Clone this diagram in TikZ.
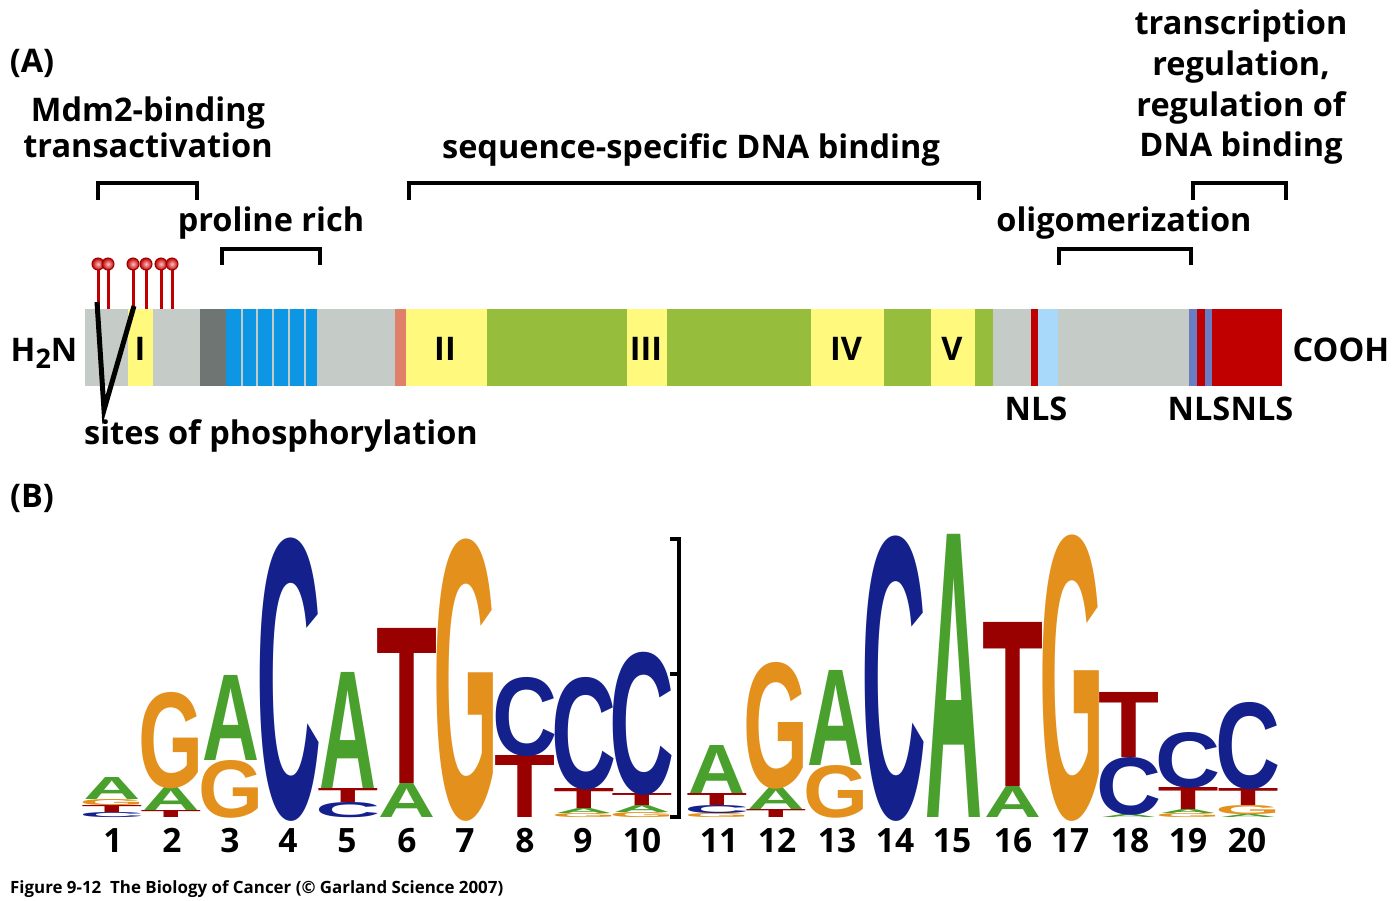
\documentclass[tikz,border=0pt]{standalone}
\usepackage{fontspec}
\usepackage{graphicx}
\setmainfont{Open Sans}
\newfontfamily\logofont{Liberation Sans}
\definecolor{cGray}{HTML}{C5CCC7}
\definecolor{cYel}{HTML}{FFF97D}
\definecolor{cGrn}{HTML}{96BE3C}
\definecolor{cDark}{HTML}{6E7572}
\definecolor{cBlue}{HTML}{0D96E4}
\definecolor{cSalm}{HTML}{E0806A}
\definecolor{cRed}{HTML}{C00000}
\definecolor{cLBlue}{HTML}{A9D9FA}
\definecolor{cPurp}{HTML}{6A7DC2}
\definecolor{lA}{HTML}{4AA02C}
\definecolor{lC}{HTML}{14218C}
\definecolor{lG}{HTML}{E3901D}
\definecolor{lT}{HTML}{990000}
\def\lwA{57pt}\def\lwC{65pt}\def\lwG{65pt}\def\lwT{61pt}
% #1 x centre, #2 bottom y, #3 height, #4 letter
\newcommand\logoL[4]{\node[inner sep=0pt,anchor=base,text=l#4] (L#1-#2) at (#1,#2)
  {\makebox[56pt]{\raisebox{0pt}[#3pt][0pt]{\resizebox{\csname lw#4\endcsname}{#3pt}{\logofont\bfseries #4}}}};}
\begin{document}
\begin{tikzpicture}[x=1pt,y=-1pt,
  lbl/.style={inner sep=0pt,anchor=base,font=\fontsize{32.5}{32.5}\selectfont\bfseries},
  num/.style={inner sep=0pt,anchor=base,font=\fontsize{33.5}{33.5}\selectfont\bfseries},
  brk/.style={line width=4pt},
  stem/.style={cRed,line width=3pt}]
\useasboundingbox (0,0) rectangle (1400,901);
\fill[white] (0,0) rectangle (1400,901);

% ---------- panel A texts
\node[lbl] (labA) at (32,73) {(A)};
\node[lbl] (mdm1) at (148,122) {Mdm2-binding};
\node[lbl] (mdm2) at (148,158) {transactivation};
\node[lbl] (pro) at (271,232) {proline rich};
\node[lbl] (seq) at (691,159) {sequence-specific DNA binding};
\node[lbl] (olig) at (1124,232) {oligomerization};
\node[lbl] (tr1) at (1241,35) {transcription};
\node[lbl] (tr2) at (1241,76) {regulation,};
\node[lbl] (tr3) at (1241,117) {regulation of};
\node[lbl] (tr4) at (1241,157) {DNA binding};

% brackets
\draw[brk] (98,200) -- (98,183) -- (197,183) -- (197,200);
\draw[brk] (222,265) -- (222,249) -- (320,249) -- (320,265);
\draw[brk] (409,200) -- (409,183) -- (979,183) -- (979,200);
\draw[brk] (1059,265) -- (1059,249) -- (1191,249) -- (1191,265);
\draw[brk] (1193,200) -- (1193,183) -- (1286,183) -- (1286,200);

% protein bar
\fill[cGray] (85,309) rectangle (1282,386);
\fill[cYel] (128,309) rectangle (153,386);
\fill[cDark] (200,309) rectangle (226,386);
\fill[cBlue] (226,309) rectangle (317,386);
\foreach \g in {241.7,257.2,273,288.7,304.6}
  \fill[cGray] (\g-1,309) rectangle (\g+1,386);
\fill[cSalm] (395,309) rectangle (406,386);
\fill[cYel] (406,309) rectangle (487,386);
\fill[cGrn] (487,309) rectangle (993,386);
\fill[cYel] (627,309) rectangle (667,386);
\fill[cYel] (811,309) rectangle (884,386);
\fill[cYel] (931,309) rectangle (975,386);
\fill[cRed] (1031,309) rectangle (1038,386);
\fill[cLBlue] (1038,309) rectangle (1058,386);
\fill[cPurp] (1189,309) rectangle (1197,386);
\fill[cRed] (1197,309) rectangle (1205,386);
\fill[cPurp] (1205,309) rectangle (1212,386);
\fill[cRed] (1212,309) rectangle (1282,386);

% domain numerals
\node[lbl] (d1) at (140,360) {I};
\node[lbl] (d2) at (445,360) {II};
\node[lbl] (d3) at (646,360) {III};
\node[lbl] (d4) at (846,360) {IV};
\node[lbl] (d5) at (952,360) {V};

% ends
\node[lbl] (h2n) at (44,361) {H\raisebox{-7pt}{\fontsize{27}{27}\selectfont 2}N};
\node[lbl] (cooh) at (1341,361) {COOH};

% NLS
\node[lbl] (nls1) at (1036,420) {NLS};
\node[lbl] (nls2) at (1199,420) {NLS};
\node[lbl] (nls3) at (1262,420) {NLS};

% phosphorylation sites
\foreach \px in {98,108,133,146,161,172}{
  \draw[stem] (\px,309) -- (\px,268);
  \shade[inner color=red!25!white,outer color=cRed] (\px,264) circle (6);
  \draw[cRed!80!black,line width=1pt] (\px,264) circle (6);
}
\draw[line width=5pt,line join=miter] (97,302) -- (104,410) -- (134,306);
\node[lbl] (sites) at (281,444) {sites of phosphorylation};

% ---------- panel B
\node[lbl] (labB) at (32,507) {(B)};

% logo columns
\logoL{112}{817}{5}{C}\logoL{112}{812}{7}{T}\logoL{112}{805}{6}{G}\logoL{112}{799}{22}{A}
\logoL{171}{817}{7}{T}\logoL{171}{810}{23}{A}\logoL{171}{787}{95}{G}
\logoL{231}{817}{57}{G}\logoL{231}{760}{85}{A}
\logoL{289}{817}{279}{C}
\logoL{348}{817}{15}{C}\logoL{348}{802}{14}{T}\logoL{348}{788}{116}{A}
\logoL{407}{817}{34}{A}\logoL{407}{783}{155}{T}
\logoL{466}{817}{278}{G}
\logoL{525}{817}{62}{T}\logoL{525}{755}{78}{C}
\logoL{584}{817}{4}{G}\logoL{584}{813}{5}{A}\logoL{584}{808}{20}{T}\logoL{584}{788}{111}{C}
\logoL{642}{817}{5}{G}\logoL{642}{812}{7}{A}\logoL{642}{805}{12}{T}\logoL{642}{793}{141}{C}
\logoL{717}{817}{4}{G}\logoL{717}{813}{8}{C}\logoL{717}{805}{12}{T}\logoL{717}{793}{48}{A}
\logoL{776}{817}{8}{T}\logoL{776}{809}{22}{A}\logoL{776}{787}{125}{G}
\logoL{836}{817}{52}{G}\logoL{836}{765}{95}{A}
\logoL{894}{817}{281}{C}
\logoL{954}{817}{283}{A}
\logoL{1013}{817}{31}{A}\logoL{1013}{786}{164}{T}
\logoL{1072}{817}{282}{G}
\logoL{1129}{817}{3}{A}\logoL{1129}{814}{57}{C}\logoL{1129}{757}{65}{T}
\logoL{1188}{817}{4}{G}\logoL{1188}{813}{4}{A}\logoL{1188}{809}{22}{T}\logoL{1188}{787}{55}{C}
\logoL{1248}{817}{3}{A}\logoL{1248}{814}{9}{G}\logoL{1248}{805}{17}{T}\logoL{1248}{788}{86}{C}

% axis bracket
\draw[line width=3.5pt] (670,539) -- (679,539) -- (679,817) -- (670,817);
\draw[line width=3.5pt] (670,674) -- (679,674);

% position numbers
\foreach \n/\xx in {1/113,2/172,3/230,4/288,5/347,6/407,7/465,8/525,9/583,10/642,
  11/719,12/777,13/837,14/895,15/952,16/1013,17/1070,18/1130,19/1188,20/1247}
  \node[num] (n\n) at (\xx,852) {\n};

% caption
\node[inner sep=0pt,anchor=base west,font=\fontsize{16.9}{16.9}\selectfont\bfseries] (cap) at (10,893)
  {Figure 9-12\ \ The Biology of Cancer (© Garland Science 2007)};
\end{tikzpicture}
\end{document}
